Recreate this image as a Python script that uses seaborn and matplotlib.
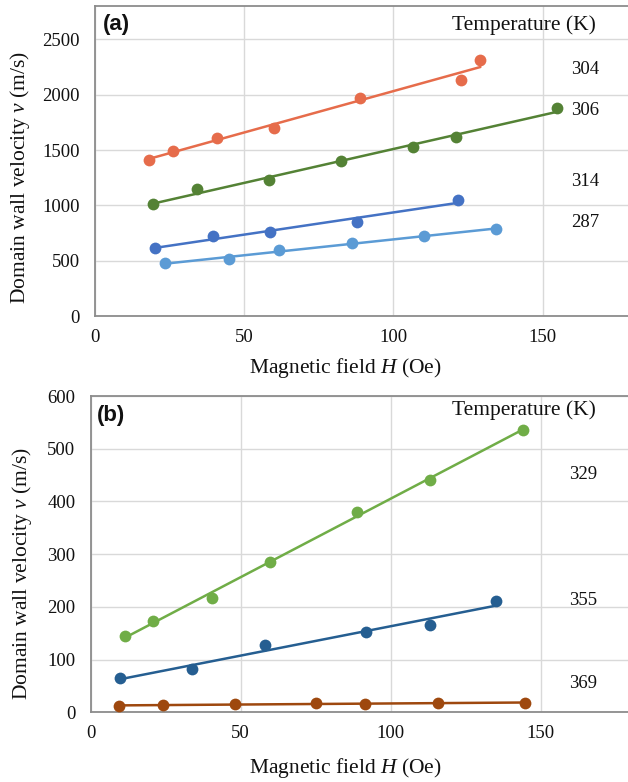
import numpy as np
import pandas as pd
import matplotlib
matplotlib.use("Agg")
import matplotlib.pyplot as plt
import seaborn as sns

# ---------------- data ----------------
# panel (a)
a_temps = ["304", "306", "314", "287"]
a_H_304 = [18.1, 26.3, 40.8, 60.0, 88.9, 122.7, 129.1]
a_v_304 = [1415, 1496, 1606, 1696, 1969, 2131, 2314]
a_H_306 = [19.6, 34.1, 58.3, 82.3, 106.7, 120.9, 154.6]
a_v_306 = [1016, 1145, 1232, 1399, 1525, 1615, 1882]
a_H_314 = [20.1, 39.6, 58.7, 87.8, 121.5]
a_v_314 = [617, 722, 758, 851, 1049]
a_H_287 = [23.4, 45.0, 61.8, 86.0, 110.1, 134.4]
a_v_287 = [477, 518, 599, 662, 722, 788]

# panel (b)
b_temps = ["329", "355", "369"]
b_H_329 = [11.4, 20.9, 40.4, 59.8, 88.7, 113.0, 144.0]
b_v_329 = [145, 173, 216, 286, 380, 441, 536]
b_H_355 = [9.8, 33.9, 58.1, 91.8, 113.0, 135.0]
b_v_355 = [65, 82, 128, 153, 165, 211]
b_H_369 = [9.5, 24.0, 48.2, 75.0, 91.5, 115.9, 144.9]
b_v_369 = [12, 14, 16, 17, 16, 18, 18]

x_ticks = [0, 50, 100, 150]
a_y_ticks = [0, 500, 1000, 1500, 2000, 2500]
b_y_ticks = [0, 100, 200, 300, 400, 500, 600]

# ---------------- style ----------------
sns.set_theme(style="white")
plt.rcParams["font.family"] = ["Liberation Serif", "DejaVu Serif"]
plt.rcParams["mathtext.fontset"] = "custom"
plt.rcParams["mathtext.rm"] = "Liberation Serif"
plt.rcParams["mathtext.it"] = "Liberation Serif:italic"

a_colors = ["#E66C4B", "#548235", "#4472C4", "#5B9BD5"]
b_colors = ["#70AD47", "#255E91", "#9E480E"]

fig = plt.figure(figsize=(6.28, 7.82), dpi=100)
ax_a = fig.add_axes([0.151, 0.5955, 0.856, 0.3968])
ax_b = fig.add_axes([0.1444, 0.0890, 0.860, 0.4046])


def style_axes(ax, yticks, ylim):
    ax.set_xlim(0, 180)
    ax.set_ylim(*ylim)
    ax.set_xticks(x_ticks)
    ax.set_yticks(yticks)
    ax.grid(True, color="#D9D9D9", linewidth=1.0)
    ax.set_axisbelow(True)
    for s in ax.spines.values():
        s.set_visible(True)
        s.set_color("#8C8C8C")
        s.set_linewidth(1.3)
    ax.tick_params(length=0, labelsize=13.5, colors="#111111")
    ax.tick_params(axis="x", pad=9)
    ax.tick_params(axis="y", pad=11)


def draw_series(ax, H, v, color):
    df = pd.DataFrame({"H": H, "v": v})
    sns.regplot(data=df, x="H", y="v", ax=ax, ci=None, truncate=True,
                color=color,
                scatter_kws=dict(s=72, alpha=1, linewidths=0, zorder=3),
                line_kws=dict(linewidth=1.8, zorder=4))


# panel (a)
for (H, v), c in zip([(a_H_304, a_v_304), (a_H_306, a_v_306),
                      (a_H_314, a_v_314), (a_H_287, a_v_287)], a_colors):
    draw_series(ax_a, H, v, c)
style_axes(ax_a, a_y_ticks, (0, 2800))

# panel (b)
for (H, v), c in zip([(b_H_329, b_v_329), (b_H_355, b_v_355),
                      (b_H_369, b_v_369)], b_colors):
    draw_series(ax_b, H, v, c)
style_axes(ax_b, b_y_ticks, (0, 600))

# labels
for ax, xlc, ylc in [(ax_a, (0.466, -0.165), (-0.1395, 0.447)),
                     (ax_b, (0.472, -0.175), (-0.128, 0.44))]:
    ax.set_xlabel("Magnetic field $H$ (Oe)", fontsize=15.5, color="#111111")
    ax.set_ylabel("Domain wall velocity $v$ (m/s)", fontsize=15.5, color="#111111")
    ax.xaxis.label.set_va("center")
    ax.yaxis.label.set_va("center")
    ax.xaxis.set_label_coords(*xlc)
    ax.yaxis.set_label_coords(*ylc)

# panel tags
ax_a.text(0.015, 0.942, "(a)", transform=ax_a.transAxes, fontsize=16,
          fontweight="bold", family=["Liberation Sans", "DejaVu Sans"],
          ha="left", va="center", color="#111111")
ax_b.text(0.012, 0.937, "(b)", transform=ax_b.transAxes, fontsize=16,
          fontweight="bold", family=["Liberation Sans", "DejaVu Sans"],
          ha="left", va="center", color="#111111")

# temperature annotations
ax_a.text(0.7985, 0.939, "Temperature (K)", transform=ax_a.transAxes,
          fontsize=15.5, ha="center", va="center", color="#111111")
a_label_y = [0.797, 0.662, 0.436, 0.301]
for t, yy in zip(a_temps, a_label_y):
    ax_a.text(0.912, yy, t, transform=ax_a.transAxes, fontsize=13.5,
              ha="center", va="center", color="#111111")

ax_b.text(0.8025, 0.956, "Temperature (K)", transform=ax_b.transAxes,
          fontsize=15.5, ha="center", va="center", color="#111111")
b_label_y = [0.753, 0.355, 0.09]
for t, yy in zip(b_temps, b_label_y):
    ax_b.text(0.912, yy, t, transform=ax_b.transAxes, fontsize=13.5,
              ha="center", va="center", color="#111111")

fig.savefig("out.png", dpi=100)
